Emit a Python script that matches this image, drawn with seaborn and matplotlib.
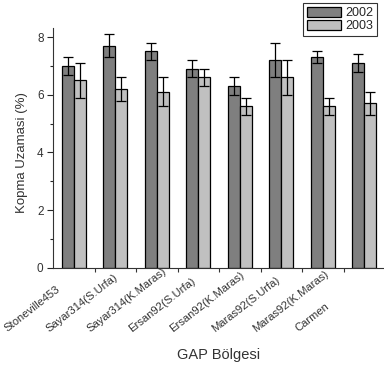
import matplotlib
matplotlib.use("Agg")
import matplotlib.pyplot as plt
import matplotlib.transforms as mtransforms
import seaborn as sns
import pandas as pd
import numpy as np

categories = ["Stoneville453", "Sayar314(S.Urfa)", "Sayar314(K.Maras)", "Ersan92(S.Urfa)",
              "Ersan92(K.Maras)", "Maras92(S.Urfa)", "Maras92(K.Maras)", "Carmen"]
years = ["2002", "2003"]
vals_2002 = [7.0, 7.7, 7.5, 6.9, 6.3, 7.2, 7.3, 7.1]
vals_2003 = [6.5, 6.2, 6.1, 6.6, 5.6, 6.6, 5.6, 5.7]
err_2002 = [0.3, 0.4, 0.3, 0.3, 0.3, 0.6, 0.2, 0.3]
err_2003 = [0.6, 0.4, 0.5, 0.3, 0.3, 0.6, 0.3, 0.4]

df = pd.DataFrame({
    "cat": categories * 2,
    "year": [years[0]] * len(categories) + [years[1]] * len(categories),
    "val": vals_2002 + vals_2003,
    "err": err_2002 + err_2003,
})

sns.set_style("ticks")
plt.rcParams["font.family"] = ["Liberation Sans", "DejaVu Sans"]

fig = plt.figure(figsize=(3.84, 3.69), dpi=100)
ax = fig.add_axes([0.138, 0.274, 0.865, 0.649])

palette = {"2002": "#7f7f7f", "2003": "#c0c0c0"}
sns.barplot(data=df, x="cat", y="val", hue="year", order=categories, hue_order=years,
            palette=palette, width=0.58, edgecolor="black", linewidth=0.9,
            errorbar=None, ax=ax, saturation=1)

# error bars from the bars' own positions
for cont, yr in zip(ax.containers, years):
    sub = df[df["year"] == yr].set_index("cat").loc[categories]
    xs = [p.get_x() + p.get_width() / 2 for p in cont.patches]
    hs = [p.get_height() for p in cont.patches]
    ax.errorbar(xs, hs, yerr=sub["err"].values, fmt="none", ecolor="black",
                elinewidth=0.9, capsize=3.8, capthick=0.9, zorder=5)

ax.set_xlim(-0.5, 7.5)
ax.set_ylim(0, 8.3)
ax.set_yticks([0, 2, 4, 6, 8])
ax.set_yticks([1, 3, 5, 7], minor=True)
ax.set_xticks(np.arange(len(categories)))
ax.set_xticks(np.arange(len(categories)) + 0.5, minor=True)
ax.set_xticklabels([""] * len(categories))
ax.tick_params(axis="x", which="major", length=0)
ax.tick_params(axis="x", which="minor", length=3, width=0.8, color="#333333")
ax.tick_params(axis="y", which="major", length=4.3, width=0.8, labelsize=8.5,
               labelcolor="#333333", pad=2.5)
ax.tick_params(axis="y", which="minor", length=2.5, width=0.8)
for s in ["top", "right"]:
    ax.spines[s].set_visible(False)
for s in ["left", "bottom"]:
    ax.spines[s].set_linewidth(0.8)
    ax.spines[s].set_color("#333333")

# category labels: rotated, starting below-left of each group
offset = mtransforms.ScaledTranslation(-0.665, -0.645, fig.dpi_scale_trans)
for i, cat in enumerate(categories):
    ax.text(i, 0, cat, transform=ax.get_xaxis_transform() + offset,
            rotation=38, rotation_mode="anchor", ha="left", va="baseline",
            fontsize=8.1, color="#333333")

ax.set_xlabel("")
ax.set_ylabel("")
fig.text((53 + 385) / 2 / 384, 1 - 355 / 369, "GAP Bölgesi", ha="center", va="center",
         fontsize=10.5, color="#333333")
fig.text(22 / 384, 1 - 153 / 369, "Kopma Uzamasi (%)", ha="center", va="center",
         rotation=90, fontsize=9.5, color="#333333")

leg = ax.legend(loc="upper right", bbox_to_anchor=(377 / 384, 1 - 3 / 369), bbox_transform=fig.transFigure,
                fontsize=9, frameon=True, fancybox=False, edgecolor="black",
                handlelength=2.7, handleheight=0.9, borderpad=0.3, labelspacing=0.05,
                handletextpad=0.35, borderaxespad=0)
leg.get_frame().set_linewidth(0.8)
leg.set_title(None)

fig.savefig("out.png", dpi=100)
